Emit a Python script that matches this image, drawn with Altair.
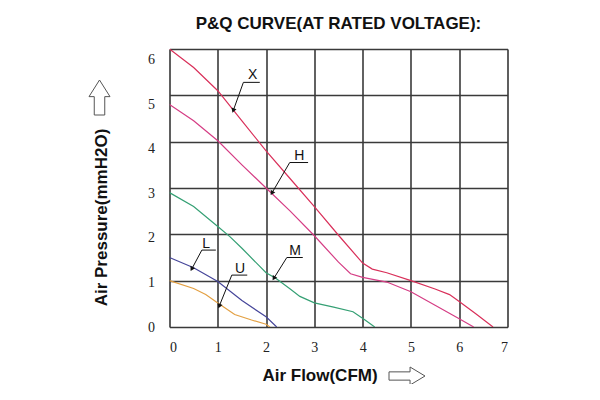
import math
import altair as alt
import pandas as pd

# ---- data ----
x_flow = [0, 0.5, 1, 1.5, 2, 2.5, 3, 3.5, 4, 4.2, 4.5, 5, 5.5, 5.8, 6, 6.35, 6.7]
x_pres = [6.0, 5.6, 5.1, 4.45, 3.8, 3.2, 2.6, 1.98, 1.38, 1.25, 1.17, 1.0, 0.82, 0.7, 0.55, 0.28, 0.0]

h_flow = [0, 0.5, 1, 1.5, 2, 2.5, 3, 3.5, 3.75, 4, 4.5, 5, 5.5, 6, 6.3]
h_pres = [4.8, 4.45, 4.02, 3.5, 3.0, 2.5, 1.97, 1.4, 1.15, 1.07, 0.97, 0.76, 0.47, 0.18, 0.0]

m_flow = [0, 0.5, 1, 1.25, 1.5, 2, 2.2, 2.5, 2.7, 3, 3.4, 3.8, 4.05, 4.25]
m_pres = [2.9, 2.6, 2.17, 1.95, 1.7, 1.17, 1.05, 0.82, 0.66, 0.52, 0.43, 0.33, 0.15, 0.0]

l_flow = [0, 0.5, 0.7, 1, 1.5, 2, 2.22]
l_pres = [1.5, 1.28, 1.16, 0.98, 0.57, 0.22, 0.0]

u_flow = [0, 0.5, 0.75, 1, 1.35, 1.7, 2, 2.08]
u_pres = [1.0, 0.83, 0.7, 0.52, 0.27, 0.15, 0.06, 0.0]

series_names = ["X", "H", "M", "L", "U"]
series_colors = ["#d9305a", "#d53e85", "#35a074", "#46469a", "#e3a043"]

# label annotations: text position, underline start/end, arrow tip
lab_text_x = [1.72, 2.69, 2.60, 0.76, 1.46]
lab_text_y = [5.44, 3.68, 1.63, 1.79, 1.25]
lab_ul_x0 = [1.53, 2.49, 2.43, 0.67, 1.29]
lab_ul_x1 = [1.87, 2.87, 2.76, 0.96, 1.61]
lab_ul_y = [5.28, 3.55, 1.50, 1.66, 1.12]
lab_tip_x = [1.32, 2.12, 2.16, 0.46, 1.03]
lab_tip_y = [4.67, 2.89, 1.05, 1.25, 0.45]

x_ticks = [0, 1, 2, 3, 4, 5, 6, 7]
y_ticks = [0, 1, 2, 3, 4, 5, 6]

# ---- tables ----
rows = []
for name, fl, pr in zip(series_names, [x_flow, h_flow, m_flow, l_flow, u_flow],
                        [x_pres, h_pres, m_pres, l_pres, u_pres]):
    for i, (a, b) in enumerate(zip(fl, pr)):
        rows.append({"series": name, "flow": a, "pres": b, "o": i})
curves = pd.DataFrame(rows)

leaders = []
for i, name in enumerate(series_names):
    leaders.append({"series": name, "seg": "u", "o": 0, "fx": lab_ul_x1[i], "py": lab_ul_y[i]})
    leaders.append({"series": name, "seg": "u", "o": 1, "fx": lab_ul_x0[i], "py": lab_ul_y[i]})
    leaders.append({"series": name, "seg": "u", "o": 2, "fx": lab_tip_x[i], "py": lab_tip_y[i]})
leaders = pd.DataFrame(leaders)

PX_X = 338 / 7.0
PX_Y = 278 / 6.0
tips = []
for i, name in enumerate(series_names):
    dx = (lab_tip_x[i] - lab_ul_x0[i]) * PX_X
    dy = -(lab_tip_y[i] - lab_ul_y[i]) * PX_Y
    ang = math.degrees(math.atan2(dx, -dy)) % 360
    tips.append({"series": name, "fx": lab_tip_x[i], "py": lab_tip_y[i], "ang": ang})
tips = pd.DataFrame(tips)

texts = pd.DataFrame({"series": series_names, "fx": lab_text_x, "py": lab_text_y})

W, H = 338, 278
xs = alt.Scale(domain=[0, 7], nice=False)
ys = alt.Scale(domain=[0, 6], nice=False)
color = alt.Scale(domain=series_names, range=series_colors)

grid = alt.Chart(pd.DataFrame({"d": [0]})).mark_point(opacity=0).encode(
    x=alt.X("d:Q", scale=xs, axis=alt.Axis(
        values=x_ticks, grid=True, gridColor="#3a3a3a", gridWidth=1.6, gridOpacity=1,
        domain=False, ticks=False, labelFont="Liberation Serif", labelFontSize=14,
        labelColor="#222", labelPadding=13,
        title="Air Flow(CFM)", titleFont="Liberation Sans", titleFontSize=17,
        titleFontWeight="bold", titleColor="#111",
        titleX=150, titleY=48, titleAlign="center", titleBaseline="middle")),
    y=alt.Y("d:Q", scale=ys, axis=alt.Axis(
        values=y_ticks, grid=True, gridColor="#3a3a3a", gridWidth=1.6, gridOpacity=1,
        domain=False, ticks=False, labelFont="Liberation Serif", labelFontSize=14,
        labelColor="#222", labelPadding=15, labelOffset=alt.ExprRef("datum.value*1.75"),
        title="Air Pressure(mmH2O)", titleFont="Liberation Sans", titleFontSize=17,
        titleFontWeight="bold", titleColor="#111", titleAngle=270,
        titleX=-68, titleY=168, titleAlign="center", titleBaseline="middle")),
)

lines = alt.Chart(curves).mark_line(strokeWidth=1.2, clip=True).encode(
    x=alt.X("flow:Q", scale=xs),
    y=alt.Y("pres:Q", scale=ys),
    color=alt.Color("series:N", scale=color, legend=None),
    order="o:Q",
    detail="series:N",
)

lead = alt.Chart(leaders).mark_line(strokeWidth=1, color="#111").encode(
    x=alt.X("fx:Q", scale=xs),
    y=alt.Y("py:Q", scale=ys),
    detail="series:N",
    order="o:Q",
)

heads = alt.Chart(tips).mark_point(shape="triangle-up", filled=True, size=28,
                                   color="#111", opacity=1).encode(
    x=alt.X("fx:Q", scale=xs),
    y=alt.Y("py:Q", scale=ys),
    angle=alt.Angle("ang:Q", scale=None),
)

labels = alt.Chart(texts).mark_text(font="Liberation Sans", fontSize=14,
                                    color="#111", baseline="middle", align="center").encode(
    x=alt.X("fx:Q", scale=xs),
    y=alt.Y("py:Q", scale=ys),
    text="series:N",
)

up_path = "M0,-1 L0.6,-0.05 L0.3,-0.05 L0.3,1 L-0.3,1 L-0.3,-0.05 L-0.6,-0.05 Z"
right_path = "M1,0 L0.17,-0.5 L0.17,-0.23 L-1,-0.23 L-1,0.23 L0.17,0.23 L0.17,0.5 Z"

arrow_up = alt.Chart(pd.DataFrame({"d": [0]})).mark_point(
    shape=up_path, size=1225, filled=False, stroke="#555", strokeWidth=1, opacity=1
).encode(x=alt.value(-70), y=alt.value(48.5))

arrow_right = alt.Chart(pd.DataFrame({"d": [0]})).mark_point(
    shape=right_path, size=1296, filled=False, stroke="#555", strokeWidth=1, opacity=1
).encode(x=alt.value(237.5), y=alt.value(327))

chart = alt.layer(grid, lines, lead, heads, labels, arrow_up, arrow_right).properties(
    width=W, height=H,
    title=alt.Title("P&Q CURVE(AT RATED VOLTAGE):", font="Liberation Sans",
                    fontSize=17, fontWeight="bold", color="#111", offset=16,
                    anchor="middle"),
    autosize=alt.AutoSizeParams(type="none"),
    padding={"left": 161.5, "top": 41, "right": 76, "bottom": 57},
).configure_view(stroke=None).configure(background="white")

chart.save("out.html", embed_options={"renderer": "svg", "actions": False})
